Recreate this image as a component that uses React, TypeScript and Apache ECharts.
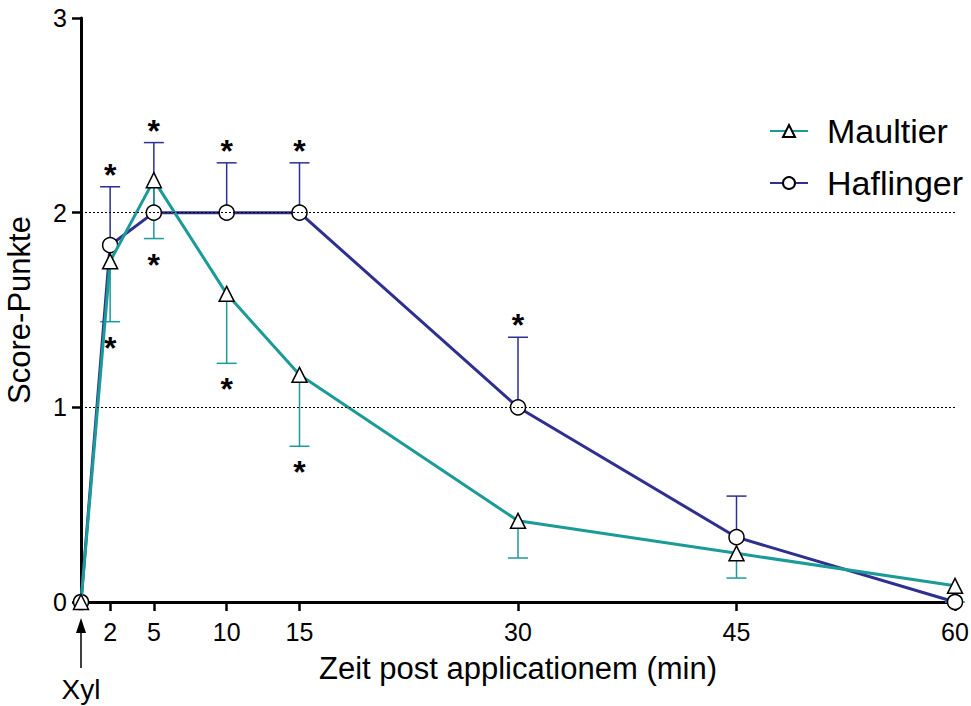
import { useEffect, useRef } from "react";
import * as echarts from "echarts";

// Sampling times (min after application)
const timePoints = [0, 2, 5, 10, 15, 30, 45, 60];

// Maultier: mean score and lower end of error bar, significance flags
const maultierMean = [0, 1.75, 2.167, 1.583, 1.167, 0.417, 0.25, 0.083];
const maultierLower = [0, 1.44, 1.867, 1.226, 0.8, 0.226, 0.123, 0];
const maultierSig = [false, true, true, true, true, false, false, false];

// Haflinger: mean score and upper end of error bar, significance flags
const haflingerMean = [0, 1.833, 2, 2, 2, 1, 0.333, 0];
const haflingerUpper = [0, 2.133, 2.36, 2.256, 2.256, 1.36, 0.544, 0];
const haflingerSig = [false, true, true, true, true, true, false, false];

const xTickValues = [2, 5, 10, 15, 30, 45, 60];
const referenceLines = [1, 2];

const TEAL = "#1b9b98";
const NAVY = "#2e2f8f";
const FONT = '"Liberation Sans", Arial, Helvetica, sans-serif';

function errorBars(
  id: string,
  color: string,
  means: number[],
  ends: number[],
  sig: boolean[],
  upward: boolean
) {
  return {
    id,
    type: "custom",
    silent: true,
    z: 1,
    data: timePoints.map((t, i) => [t, means[i], ends[i], sig[i] ? 1 : 0]),
    renderItem: (_params: any, api: any) => {
      const p = api.coord([api.value(0), api.value(1)]);
      const e = api.coord([api.value(0), api.value(2)]);
      const children: any[] = [];
      if (Math.abs(e[1] - p[1]) > 0.5) {
        children.push({
          type: "line",
          shape: { x1: p[0], y1: p[1], x2: e[0], y2: e[1] },
          style: { stroke: color, lineWidth: 1.5 },
        });
        children.push({
          type: "line",
          shape: { x1: e[0] - 10, y1: e[1], x2: e[0] + 10, y2: e[1] },
          style: { stroke: color, lineWidth: 1.5 },
        });
      }
      if (api.value(3)) {
        const gy = upward ? e[1] - 19 : e[1] + 19;
        children.push({
          type: "text",
          x: e[0],
          y: gy + 7,
          style: {
            text: "*",
            fill: "#000",
            font: `bold 32px ${FONT}`,
            align: "center",
            verticalAlign: "middle",
          },
        });
      }
      return { type: "group", children };
    },
  };
}

export default function App() {
  const ref = useRef<HTMLDivElement>(null);

  useEffect(() => {
    if (!ref.current) return;
    const chart = echarts.init(ref.current, undefined, { renderer: "svg" });

    chart.setOption({
      animation: false,
      backgroundColor: "#fff",
      textStyle: { fontFamily: FONT },
      grid: {
        left: 81,
        right: 16,
        top: 18,
        bottom: 104,
        containLabel: false,
        outerBoundsMode: "none",
      },
      legend: {
        data: ["Maultier", "Haflinger"],
        orient: "vertical",
        left: 764,
        top: 109,
        itemWidth: 38,
        itemHeight: 15,
        itemGap: 18,
        selectedMode: false,
        textStyle: {
          fontSize: 34,
          lineHeight: 34,
          color: "#000",
          fontFamily: FONT,
          padding: [0, 0, 0, 14],
        },
      },
      xAxis: {
        type: "value",
        min: 0,
        max: 60,
        name: "Zeit post applicationem (min)",
        nameLocation: "middle",
        nameGap: 51,
        nameTextStyle: { fontSize: 31, color: "#000", fontFamily: FONT },
        axisLine: { lineStyle: { color: "#000", width: 3 } },
        axisTick: {
          show: true,
          customValues: xTickValues,
          length: 9,
          lineStyle: { color: "#000", width: 2.5 },
        },
        axisLabel: {
          customValues: xTickValues,
          fontSize: 25,
          color: "#000",
          margin: 17,
          fontFamily: FONT,
        },
        splitLine: { show: false },
      },
      yAxis: {
        type: "value",
        min: 0,
        max: 3,
        interval: 1,
        name: "Score-Punkte",
        nameLocation: "middle",
        nameGap: 46,
        nameTextStyle: { fontSize: 31, color: "#000", fontFamily: FONT },
        axisLine: { show: true, lineStyle: { color: "#000", width: 3 } },
        axisTick: { show: true, length: 9, lineStyle: { color: "#000", width: 2.5 } },
        axisLabel: { fontSize: 25, color: "#000", margin: 14, fontFamily: FONT },
        splitLine: { show: false },
      },
      series: [
        errorBars("hafErr", NAVY, haflingerMean, haflingerUpper, haflingerSig, true),
        errorBars("maultErr", TEAL, maultierMean, maultierLower, maultierSig, false),
        {
          type: "line",
          name: "Haflinger",
          z: 3,
          data: timePoints.map((t, i) => [t, haflingerMean[i]]),
          symbol: "circle",
          symbolSize: 15,
          lineStyle: { color: NAVY, width: 3 },
          itemStyle: { color: "#fff", borderColor: "#000", borderWidth: 1.5 },
          markLine: {
            silent: true,
            symbol: ["none", "none"],
            label: { show: false },
            lineStyle: { color: "#000", width: 1, type: [2, 2] },
            data: referenceLines.map((v) => ({ yAxis: v })),
          },
        },
        {
          type: "line",
          name: "Maultier",
          z: 4,
          data: timePoints.map((t, i) => [t, maultierMean[i]]),
          symbol: "triangle",
          symbolSize: 15,
          lineStyle: { color: TEAL, width: 3 },
          itemStyle: { color: "#fff", borderColor: "#000", borderWidth: 1.5 },
        },
      ],
    });

    // Application marker under the time origin
    const x0 = chart.convertToPixel({ xAxisIndex: 0 }, 0) as number;
    chart.setOption({
      graphic: [
        {
          type: "line",
          shape: { x1: x0, y1: 630, x2: x0, y2: 668 },
          style: { stroke: "#000", lineWidth: 1.5 },
        },
        {
          type: "polygon",
          shape: { points: [[x0, 618], [x0 - 5, 633], [x0 + 5, 633]] },
          style: { fill: "#000" },
        },
        {
          type: "text",
          x: x0,
          y: 689,
          style: {
            text: "Xyl",
            fill: "#000",
            font: `28px ${FONT}`,
            align: "center",
            verticalAlign: "middle",
          },
        },
      ],
    });

    return () => chart.dispose();
  }, []);

  return (
    <div
      ref={ref}
      style={{ position: "absolute", left: 0, top: 0, width: 971, height: 706 }}
    />
  );
}
